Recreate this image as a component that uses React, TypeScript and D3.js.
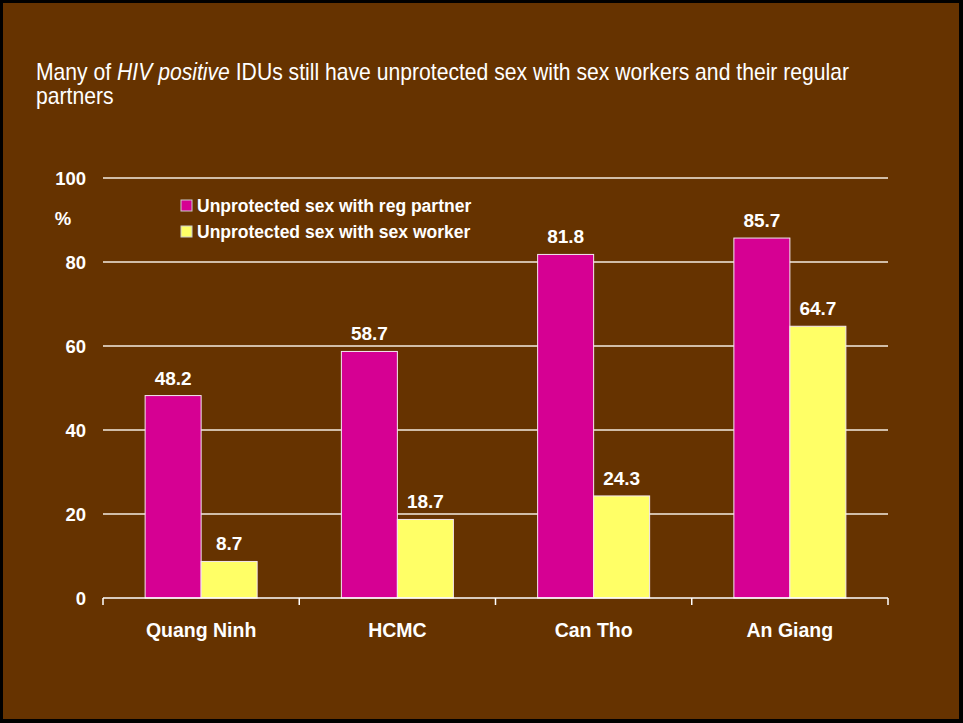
import React, { useEffect, useRef } from 'react';
import * as d3 from 'd3';

const categories = ['Quang Ninh', 'HCMC', 'Can Tho', 'An Giang'];
const seriesNames = ['Unprotected sex with reg partner', 'Unprotected sex with sex worker'];
const regPartner = [48.2, 58.7, 81.8, 85.7];
const sexWorker = [8.7, 18.7, 24.3, 64.7];
const yTicks = [0, 20, 40, 60, 80, 100];

const colors = ['#d60093', '#ffff66'];

export default function App() {
  const svgRef = useRef<SVGSVGElement>(null);

  useEffect(() => {
    if (!svgRef.current) return;
    const W = 963;
    const H = 723;
    const svg = d3.select(svgRef.current);
    svg.selectAll('*').remove();

    // frame
    svg.append('rect').attr('width', W).attr('height', H).attr('fill', '#000');
    svg.append('rect')
      .attr('x', 3).attr('y', 3)
      .attr('width', W - 7).attr('height', H - 7)
      .attr('fill', '#663300');

    // title (condensed look via horizontal scale)
    const tg = svg.append('g').attr('transform', 'translate(36,0) scale(0.92,1)');
    const title = tg.append('text')
      .attr('x', 0).attr('y', 80)
      .attr('fill', '#fff')
      .attr('font-family', 'Arial, "Liberation Sans", sans-serif')
      .attr('font-size', 23);
    title.append('tspan').text('Many of ');
    title.append('tspan').attr('font-style', 'italic').text('HIV positive');
    title.append('tspan').text(' IDUs still have unprotected sex with sex workers and their regular');
    tg.append('text')
      .attr('x', 0).attr('y', 104)
      .attr('fill', '#fff')
      .attr('font-family', 'Arial, "Liberation Sans", sans-serif')
      .attr('font-size', 23)
      .text('partners');

    const left = 103, right = 888, top = 178, bottom = 598;

    const x = d3.scaleBand<string>()
      .domain(categories)
      .range([left, right]);

    const barW = 56;

    const y = d3.scaleLinear().domain([0, 100]).range([bottom, top]);

    const font = 'Arial, "Liberation Sans", sans-serif';

    // grid
    svg.append('g')
      .selectAll('line')
      .data(yTicks.filter((t) => t > 0))
      .join('line')
      .attr('x1', left).attr('x2', right)
      .attr('y1', (d) => y(d)).attr('y2', (d) => y(d))
      .attr('stroke', '#f4ece0')
      .attr('stroke-width', 1.5);

    // y labels
    svg.append('g')
      .selectAll('text')
      .data(yTicks)
      .join('text')
      .attr('x', 86)
      .attr('y', (d) => y(d) + 7)
      .attr('text-anchor', 'end')
      .attr('fill', '#fff')
      .attr('font-family', font)
      .attr('font-weight', 'bold')
      .attr('font-size', 18.5)
      .text((d) => d);

    svg.append('text')
      .attr('x', 63).attr('y', 225)
      .attr('text-anchor', 'middle')
      .attr('fill', '#fff')
      .attr('font-family', font)
      .attr('font-weight', 'bold')
      .attr('font-size', 18.5)
      .text('%');

    // bars
    const groups = svg.append('g')
      .selectAll('g')
      .data(categories)
      .join('g');

    [regPartner, sexWorker].forEach((vals, si) => {
      groups.append('rect')
        .attr('x', (c) => x(c)! + x.bandwidth() / 2 - barW + si * barW)
        .attr('y', (_, i) => y(vals[i]))
        .attr('width', barW)
        .attr('height', (_, i) => bottom - y(vals[i]))
        .attr('fill', colors[si])
        .attr('stroke', '#f4e8f0')
        .attr('stroke-width', 1);

      groups.append('text')
        .attr('x', (c) => x(c)! + x.bandwidth() / 2 - barW / 2 + si * barW)
        .attr('y', (_, i) => y(vals[i]) - 11)
        .attr('text-anchor', 'middle')
        .attr('fill', '#fff')
        .attr('font-family', font)
        .attr('font-weight', 'bold')
        .attr('font-size', 19)
        .text((_, i) => vals[i].toFixed(1));
    });

    // x axis
    svg.append('line')
      .attr('x1', left).attr('x2', right)
      .attr('y1', bottom).attr('y2', bottom)
      .attr('stroke', '#fff').attr('stroke-width', 1.5);
    const edges = categories.map((c) => x(c)!).concat([right]);
    svg.append('g')
      .selectAll('line')
      .data(edges)
      .join('line')
      .attr('x1', (d) => d).attr('x2', (d) => d)
      .attr('y1', bottom).attr('y2', bottom + 7)
      .attr('stroke', '#fff').attr('stroke-width', 1.5);

    svg.append('g')
      .selectAll('text')
      .data(categories)
      .join('text')
      .attr('x', (c) => x(c)! + x.bandwidth() / 2)
      .attr('y', 637)
      .attr('text-anchor', 'middle')
      .attr('fill', '#fff')
      .attr('font-family', font)
      .attr('font-weight', 'bold')
      .attr('font-size', 19.5)
      .text((c) => c);

    // legend
    const lg = svg.append('g')
      .selectAll('g')
      .data(seriesNames)
      .join('g')
      .attr('transform', (_, i) => `translate(181, ${200 + i * 26})`);
    lg.append('rect')
      .attr('width', 11).attr('height', 11)
      .attr('fill', (_, i) => colors[i])
      .attr('stroke', '#ccc').attr('stroke-width', 1);
    lg.append('text')
      .attr('x', 16).attr('y', 12)
      .attr('fill', '#fff')
      .attr('font-family', font)
      .attr('font-weight', 'bold')
      .attr('font-size', 17.5)
      .text((d) => d);
  }, []);

  return (
    <svg
      ref={svgRef}
      width={963}
      height={723}
      style={{ position: 'absolute', left: 0, top: 0, display: 'block' }}
    />
  );
}
